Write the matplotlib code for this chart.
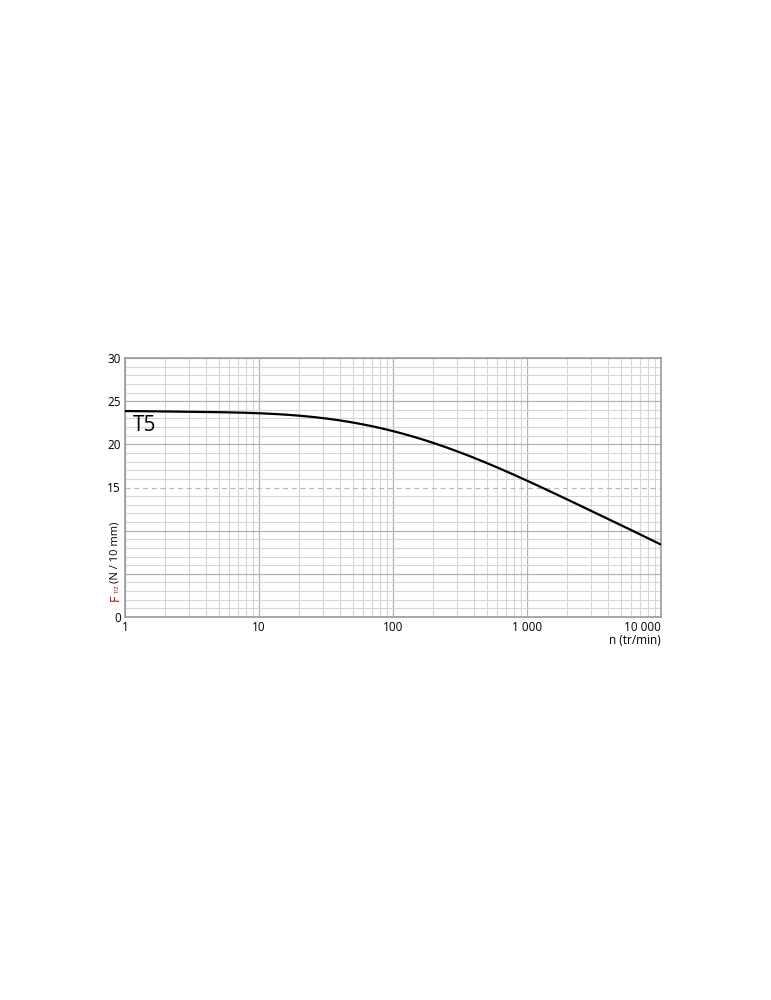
import matplotlib
matplotlib.use("Agg")
import matplotlib.pyplot as plt
from matplotlib.ticker import FixedLocator, NullFormatter
import numpy as np

plt.rcParams['font.family'] = ['Open Sans', 'DejaVu Sans']

# curve
speed = [1, 2, 5, 10, 20, 30, 50, 100, 200, 300, 500, 1000, 2000, 3000, 5000, 10000]
force = [23.85, 23.82, 23.72, 23.6, 23.32, 23.0, 22.55, 21.6, 20.15, 19.15, 17.8, 15.85,
         13.6, 12.35, 10.6, 8.4]

x_ticks = [1, 10, 100, 1000, 10000]
x_labels = ["1", "10", "100", "1 000", "10 000"]
y_ticks = [0, 5, 10, 15, 20, 25, 30]
y_labels = ["0", "", "", "15", "20", "25", "30"]
curve_name = "T5"

fig = plt.figure(figsize=(7.71, 10), dpi=100)
ax = fig.add_axes([125 / 771, 1 - 617 / 1000, (661 - 125) / 771, (617 - 358) / 1000])

# least-squares smooth line through the read points, in log space
lx = np.log10(speed)
coef = np.polyfit(lx, force, 6)
xs = np.linspace(lx[0], lx[-1], 400)
ax.plot(10 ** xs, np.polyval(coef, xs), color='black', lw=1.6, zorder=3,
        solid_capstyle='butt')

ax.set_xscale('log')
ax.set_xlim(1, 10000)
ax.set_ylim(0, 30)

ax.set_xticks(x_ticks)
ax.set_xticklabels(x_labels)
ax.xaxis.set_minor_locator(FixedLocator([m * 10 ** d for d in range(4) for m in range(2, 10)]))
ax.xaxis.set_minor_formatter(NullFormatter())
ax.set_yticks(y_ticks)
ax.set_yticklabels(y_labels)
ax.yaxis.set_minor_locator(FixedLocator(np.arange(0, 31, 1)))

ax.grid(which='major', color='#b3b3b3', lw=0.9)
ax.grid(which='minor', color='#d6d6d6', lw=0.8)
ax.yaxis.get_gridlines()[3].set_linestyle((0, (4, 3)))
ax.yaxis.get_gridlines()[3].set_color('#b8b8b8')
ax.set_axisbelow(True)

ax.tick_params(which='both', length=0, labelsize=8.5, pad=3)
ax.get_xticklabels()[-1].set_horizontalalignment('right')
for s in ax.spines.values():
    s.set_color('#9a9a9a')
    s.set_linewidth(1.2)

ax.text(1.147, 22.2, curve_name, fontsize=15, va='center', ha='left')

# y label: red F with T/Z subscript, then black unit
fig.text(115 / 771, 1 - 601 / 1000, "F", color='#c00000', fontsize=9,
         rotation=90, rotation_mode='anchor', ha='left', va='center')
fig.text(117.5 / 771, 1 - 593 / 1000, "T/Z", color='#c00000', fontsize=4.2,
         rotation=90, rotation_mode='anchor', ha='left', va='center')
fig.text(115 / 771, 1 - 583 / 1000, "(N / 10 mm)", color='black', fontsize=8,
         rotation=90, rotation_mode='anchor', ha='left', va='center')

fig.text(661 / 771, 1 - 640 / 1000, "n (tr/min)", fontsize=8.5, ha='right', va='center')

fig.savefig("out.png", dpi=100)
